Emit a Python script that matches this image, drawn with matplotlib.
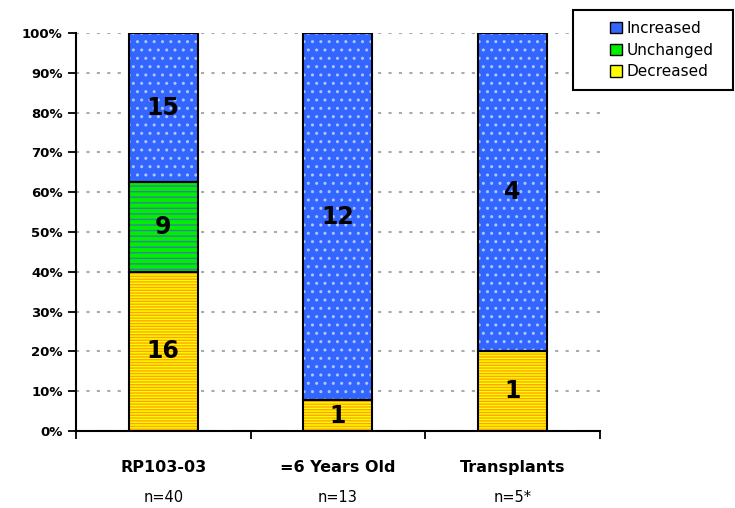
import numpy as np
import matplotlib.pyplot as plt
from matplotlib.patches import Patch

# data
groups = ['RP103-03', '=6 Years Old', 'Transplants']
n_labels = ['n=40', 'n=13', 'n=5*']
decreased = [16, 1, 1]
unchanged = [9, 0, 0]
increased = [15, 12, 4]

dec = np.array(decreased, dtype=float)
unc = np.array(unchanged, dtype=float)
inc = np.array(increased, dtype=float)
tot = dec + unc + inc
dec_p, unc_p, inc_p = dec / tot * 100, unc / tot * 100, inc / tot * 100

plt.rcParams['hatch.linewidth'] = 1.0
fig = plt.figure(figsize=(7.35, 5.08), dpi=100)
ax = fig.add_axes([0.1034, 0.1516, 0.7126, 0.7834])

x = np.arange(len(groups))
w = 0.395
b1 = ax.bar(x, dec_p, w, color='#ffff00', edgecolor='#ffa500', hatch='------', lw=0, zorder=3)
b2 = ax.bar(x, unc_p, w, bottom=dec_p, color='#00ee00', edgecolor='#3a7fa0', hatch='---', lw=0, zorder=3)
b3 = ax.bar(x, inc_p, w, bottom=dec_p + unc_p, color='#3366ff', edgecolor='#b0c4ff', hatch='..', lw=0, zorder=3)
# black outlines drawn separately so the hatch colours stay
for bars in (b1, b2, b3):
    for r in bars:
        if r.get_height() > 0:
            ax.add_patch(plt.Rectangle(r.get_xy(), r.get_width(), r.get_height(),
                                       fill=False, edgecolor='black', lw=1.5, zorder=4))

for vals, bottoms, pcts in ((dec, np.zeros(3), dec_p), (unc, dec_p, unc_p), (inc, dec_p + unc_p, inc_p)):
    for i in range(len(groups)):
        if vals[i] > 0:
            ax.text(x[i], bottoms[i] + pcts[i] / 2, f'{int(vals[i])}', ha='center', va='center',
                    fontsize=17, fontweight='heavy', zorder=5)

ax.set_xlim(-0.5, 2.5)
ax.set_ylim(0, 100)
ax.set_yticks(np.arange(0, 101, 10))
ax.set_yticklabels([f'{v}%' for v in range(0, 101, 10)], fontsize=9.5, fontweight='bold')
ax.yaxis.grid(True, linestyle=(0, (1.5, 3.5)), color='#aaaaaa', lw=1.5, zorder=0)
ax.set_xticks([-0.5, 0.5, 1.5, 2.5])
ax.set_xticklabels([])
ax.tick_params(axis='both', direction='out', length=6, width=1.3, colors='black')
for s in ('top', 'right'):
    ax.spines[s].set_visible(False)
for s in ('left', 'bottom'):
    ax.spines[s].set_linewidth(1.5)

for i in range(len(groups)):
    ax.text(x[i], -0.093, groups[i], transform=ax.get_xaxis_transform(), ha='center', va='center',
            fontsize=11.5, fontweight='bold')
    ax.text(x[i], -0.168, n_labels[i], transform=ax.get_xaxis_transform(), ha='center', va='center',
            fontsize=10.5)

# legend box
fig.patches.append(plt.Rectangle((573 / 735, 1 - 90 / 508), 160 / 735, 80 / 508, transform=fig.transFigure,
                                 fill=True, facecolor='white', edgecolor='black', lw=1.5, zorder=5))
handles = [Patch(facecolor='#3366ff', edgecolor='black', label='Increased'),
           Patch(facecolor='#00ee00', edgecolor='black', label='Unchanged'),
           Patch(facecolor='#ffff00', edgecolor='black', label='Decreased')]
leg = fig.legend(handles=handles, loc='center left', bbox_to_anchor=(598 / 735, 1 - 50 / 508), fontsize=11,
                 frameon=False, handlelength=0.75, handleheight=0.75,
                 handletextpad=0.3, labelspacing=0.45, borderpad=0.3)
leg.set_zorder(6)
fig.savefig('out.png', dpi=100)
